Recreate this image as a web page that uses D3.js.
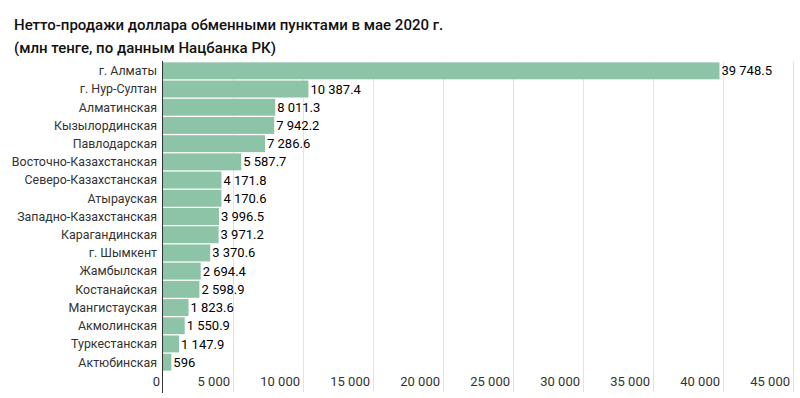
<!DOCTYPE html>
<html>
  <head>
    <meta charset="utf-8">
    <title>Нетто-продажи доллара</title>
    <script src="https://d3js.org/d3.v7.min.js"></script>
    <style>
      body { margin: 0; background: #fff; font-family: Roboto, "Noto Sans", sans-serif; }
      svg { display: block; }
    </style>
  </head>
  <body>
    <svg id="chart" width="800" height="398"></svg>
    <script>
      // data
      const regions = ["г. Алматы", "г. Нур-Султан", "Алматинская", "Кызылординская", "Павлодарская",
        "Восточно-Казахстанская", "Северо-Казахстанская", "Атырауская", "Западно-Казахстанская",
        "Карагандинская", "г. Шымкент", "Жамбылская", "Костанайская", "Мангистауская",
        "Акмолинская", "Туркестанская", "Актюбинская"];
      const sales = [39748.5, 10387.4, 8011.3, 7942.2, 7286.6, 5587.7, 4171.8, 4170.6, 3996.5,
        3971.2, 3370.6, 2694.4, 2598.9, 1823.6, 1550.9, 1147.9, 596];
      const ticks = [0, 5000, 10000, 15000, 20000, 25000, 30000, 35000, 40000, 45000];
      const titleLines = ["Нетто-продажи доллара обменными пунктами в мае 2020 г.",
        "(млн тенге, по данным Нацбанка РК)"];

      const locale = d3.formatLocale({ decimal: ".", thousands: "\u00a0", grouping: [3], currency: ["", ""] });
      const fmt = locale.format(",~f");

      const svg = d3.select("#chart");
      const x = d3.scaleLinear().domain([0, 45000]).range([163, 793]);
      const y = d3.scaleBand().domain(regions).range([62, 371]).paddingInner(0.07).paddingOuter(0.02);

      // title
      svg.selectAll(".title")
        .data(titleLines)
        .enter().append("text")
          .attr("x", 14)
          .attr("y", function(d, i) { return 30 + i * 23; })
          .style("font-size", "15px")
          .style("font-weight", 500)
          .style("fill", "#111")
          .text(function(d) { return d; });

      // gridlines
      svg.selectAll(".grid")
        .data(ticks.slice(1))
        .enter().append("line")
          .attr("x1", function(d) { return x(d) + 0.5; })
          .attr("x2", function(d) { return x(d) + 0.5; })
          .attr("y1", 62)
          .attr("y2", 392)
          .style("stroke", "#e3e3e3");

      // tick labels
      svg.selectAll(".tick")
        .data(ticks)
        .enter().append("text")
          .attr("x", function(d) { return x(d) - 3; })
          .attr("y", 386)
          .attr("text-anchor", "end")
          .style("font-size", "13px")
          .style("fill", "#333")
          .text(function(d) { return fmt(d); });

      // bars
      svg.selectAll(".bar")
        .data(sales)
        .enter().append("rect")
          .attr("x", x(0))
          .attr("y", function(d, i) { return y(regions[i]); })
          .attr("width", function(d) { return x(d) - x(0); })
          .attr("height", y.bandwidth())
          .style("fill", "#8dc3a6");

      // value labels
      svg.selectAll(".value")
        .data(sales)
        .enter().append("text")
          .attr("x", function(d) { return x(d) + 2; })
          .attr("y", function(d, i) { return y(regions[i]) + y.bandwidth() / 2; })
          .attr("dy", "0.35em")
          .style("font-size", "13px")
          .style("fill", "#000")
          .text(function(d) { return fmt(d); });

      // category labels
      svg.selectAll(".cat")
        .data(regions)
        .enter().append("text")
          .attr("x", 157)
          .attr("y", function(d) { return y(d) + y.bandwidth() / 2; })
          .attr("dy", "0.35em")
          .attr("text-anchor", "end")
          .style("font-size", "12.4px")
          .style("fill", "#333")
          .text(function(d) { return d; });

      // zero axis
      svg.append("line")
        .attr("x1", x(0) - 0.5)
        .attr("x2", x(0) - 0.5)
        .attr("y1", 61)
        .attr("y2", 393)
        .style("stroke", "#333");
    </script>
  </body>
</html>
